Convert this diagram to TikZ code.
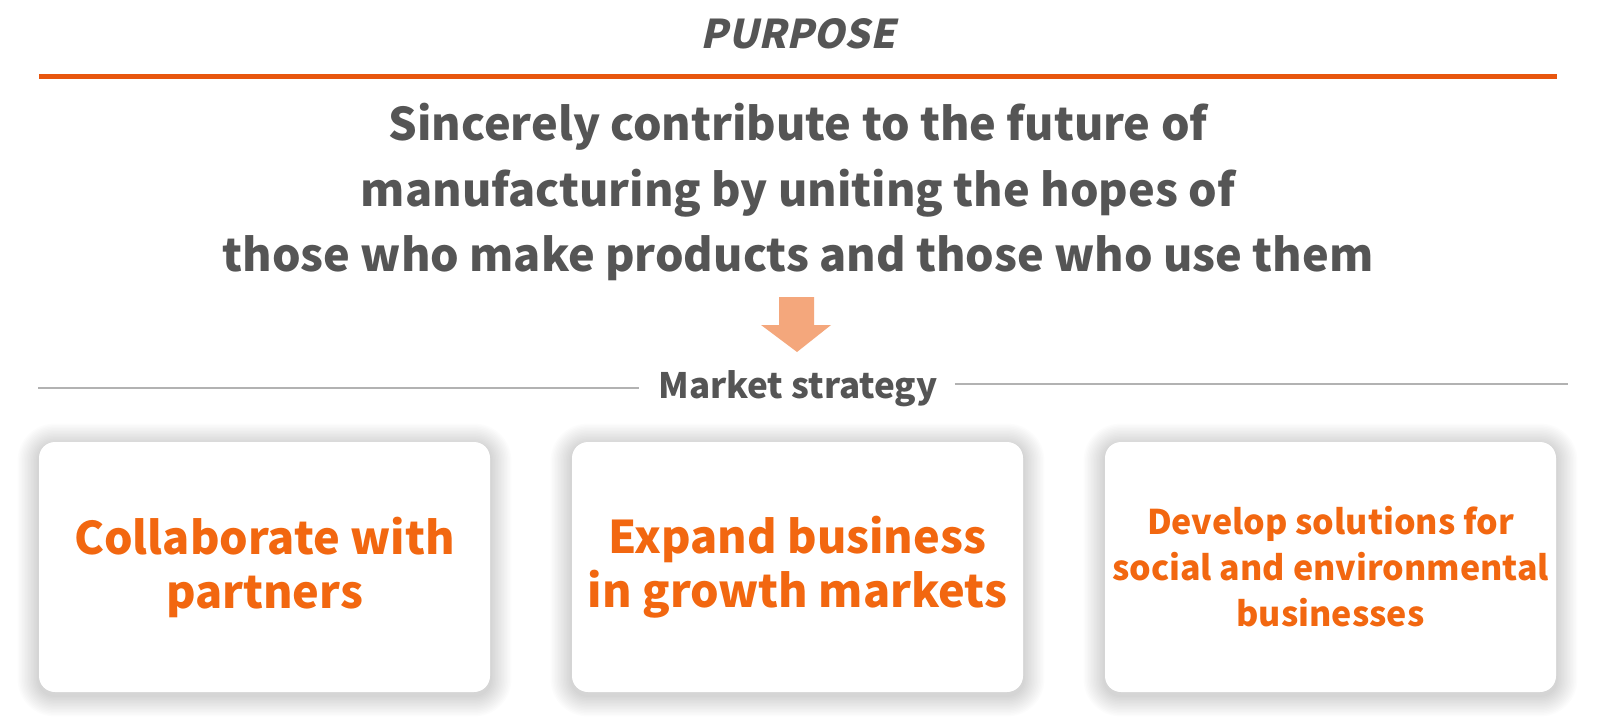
\documentclass[tikz,border=0pt]{standalone}
\usepackage{fontspec}
\setmainfont{Noto Sans CJK JP}
\newfontfamily\purpfont{Noto Sans CJK JP}[FakeSlant=0.22]
\usetikzlibrary{backgrounds}
\definecolor{txtgray}{HTML}{555555}
\definecolor{lineorange}{HTML}{E8560E}
\definecolor{boxorange}{HTML}{F26710}
\definecolor{arroworange}{HTML}{F4A77C}
\definecolor{rulegray}{HTML}{B2B2B2}
\tikzset{
  card/.style={draw=none, fill=white, rounded corners=8pt, minimum width=225.5pt, minimum height=125pt},
  shadowlayer/.style={fill=black, fill opacity=0.012, draw=none},
  cardtext/.style={text=boxorange, align=center, font=\bfseries\fontsize{22.5}{27}\selectfont},
  cardsmall/.style={text=boxorange, align=center, font=\bfseries\fontsize{17}{23}\selectfont},
  graytext/.style={text=txtgray, align=center},
}
\begin{document}
\begin{tikzpicture}[x=0.5pt, y=-0.5pt]
\useasboundingbox (0,0) rectangle (1600,718);

% title
\node[graytext, font=\purpfont\bfseries\fontsize{19.8}{22}\selectfont] (title) at (798,34) {PURPOSE};
\coordinate (ol) at (39,76);
\coordinate (or) at (1557,76);
\draw[lineorange, line width=2.5pt] (ol) -- (or);

% purpose statement
\node[graytext, font=\bfseries\fontsize{22.5}{32.8}\selectfont] (purpose) at (798,192)
  {Sincerely contribute to the future of\\
   manufacturing by uniting the hopes of\\
   those who make products and those who use them};

% arrow
\fill[arroworange] (779,297) -- (814,297) -- (814,325) -- (831,325) -- (797,352) -- (761,325) -- (779,325) -- cycle;

% market strategy
\node[graytext, font=\bfseries\fontsize{17.5}{22}\selectfont] (market) at (798,389) {Market strategy};
\coordinate (gl) at (38,388);
\coordinate (gr) at (1568,384);
\draw[rulegray, line width=1pt] (gl) -- ([xshift=-6pt]market.west |- gl);
\draw[rulegray, line width=1pt] ([xshift=5pt]market.east |- gr) -- (gr);

% cards
\node[card] (c1) at (264.5,567) {};
\node[card] (c2) at (797.5,567) {};
\node[card] (c3) at (1330.5,567) {};
\node[cardtext] (t1) at (c1) {Collaborate with\\partners};
\node[cardtext] (t2) at (c2) {Expand business\\in growth markets};
\node[cardsmall] (t3) at (c3) {Develop solutions for\\social and environmental\\businesses};

\begin{pgfonlayer}{background}
  \fill[white] (0,0) rectangle (1600,718);
  \foreach \c in {c1,c2,c3}{
    \foreach \i in {1,...,14}{
      \fill[shadowlayer, rounded corners={8pt+0.75pt*\i}]
        ([xshift={-0.75pt*\i}, yshift={0.75pt*\i-1.5pt}]\c.north west)
        rectangle ([xshift={0.75pt*\i}, yshift={-0.75pt*\i-1.5pt}]\c.south east);
    }
  }
\end{pgfonlayer}
\end{tikzpicture}
\end{document}
